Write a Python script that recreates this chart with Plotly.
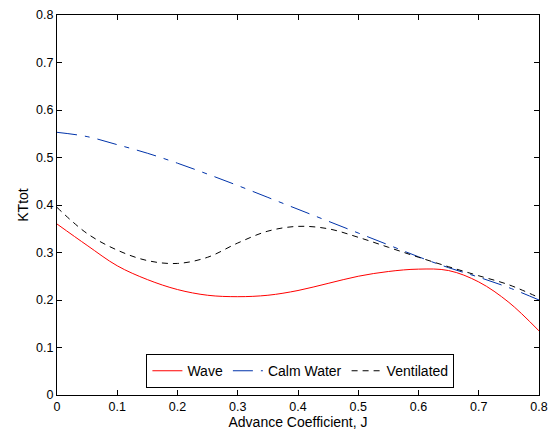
import plotly.graph_objects as go

J = [0, 0.05, 0.1, 0.15, 0.2, 0.25, 0.3, 0.35, 0.4, 0.45, 0.5, 0.55, 0.6, 0.65, 0.7, 0.75, 0.8]
wave = [0.36, 0.315, 0.272, 0.243, 0.222, 0.210, 0.207, 0.210, 0.220, 0.235, 0.250, 0.260, 0.265, 0.262, 0.238, 0.195, 0.135]
calm = [0.553, 0.544, 0.527, 0.509, 0.488, 0.465, 0.441, 0.416, 0.391, 0.366, 0.341, 0.316, 0.291, 0.268, 0.248, 0.226, 0.200]
vent = [0.395, 0.340, 0.305, 0.283, 0.277, 0.290, 0.320, 0.345, 0.355, 0.350, 0.332, 0.311, 0.290, 0.270, 0.251, 0.232, 0.205]

xticks = [0, 0.1, 0.2, 0.3, 0.4, 0.5, 0.6, 0.7, 0.8]
yticks = [0, 0.1, 0.2, 0.3, 0.4, 0.5, 0.6, 0.7, 0.8]

FONT = "Liberation Sans, Arial"
fig = go.Figure()
fig.add_trace(go.Scatter(x=J, y=wave, mode="lines", name="Wave", line=dict(color="#ff0000", width=1, shape="spline")))
fig.add_trace(go.Scatter(x=J, y=calm, mode="lines", name="Calm Water", line=dict(color="#0033aa", width=1, shape="spline", dash="20px,8px,5px,8px")))
fig.add_trace(go.Scatter(x=J, y=vent, mode="lines", name="Ventilated", line=dict(color="#000000", width=1, shape="spline", dash="6px,5px")))

axis_common = dict(showgrid=False, zeroline=False, showline=True, linecolor="black", linewidth=1,
                   mirror="ticks", ticks="inside", ticklen=5, tickcolor="black", automargin=False,
                   tickfont=dict(family=FONT, size=12.5, color="black"))
fig.update_xaxes(range=[0, 0.8], tickvals=xticks, ticktext=[f"{v:g}" for v in xticks],
                 title=dict(text="Advance Coefficient, J", font=dict(family=FONT, size=14, color="black"), standoff=2),
                 **axis_common)
fig.update_yaxes(range=[0, 0.8], tickvals=yticks, ticktext=[f"{v:g}" for v in yticks],
                 title=dict(text="KTtot", font=dict(family=FONT, size=14, color="black"), standoff=4),
                 **axis_common)
fig.update_layout(width=551, height=439, margin=dict(l=57, r=12, t=15, b=44, autoexpand=False),
                  plot_bgcolor="white", paper_bgcolor="white",
                  legend=dict(orientation="h", x=0.505, y=0.018, xanchor="center", yanchor="bottom",
                              bordercolor="black", borderwidth=1, bgcolor="white",
                              font=dict(family=FONT, size=14, color="black"),
                              tracegroupgap=0))
fig.write_html("out.html")
